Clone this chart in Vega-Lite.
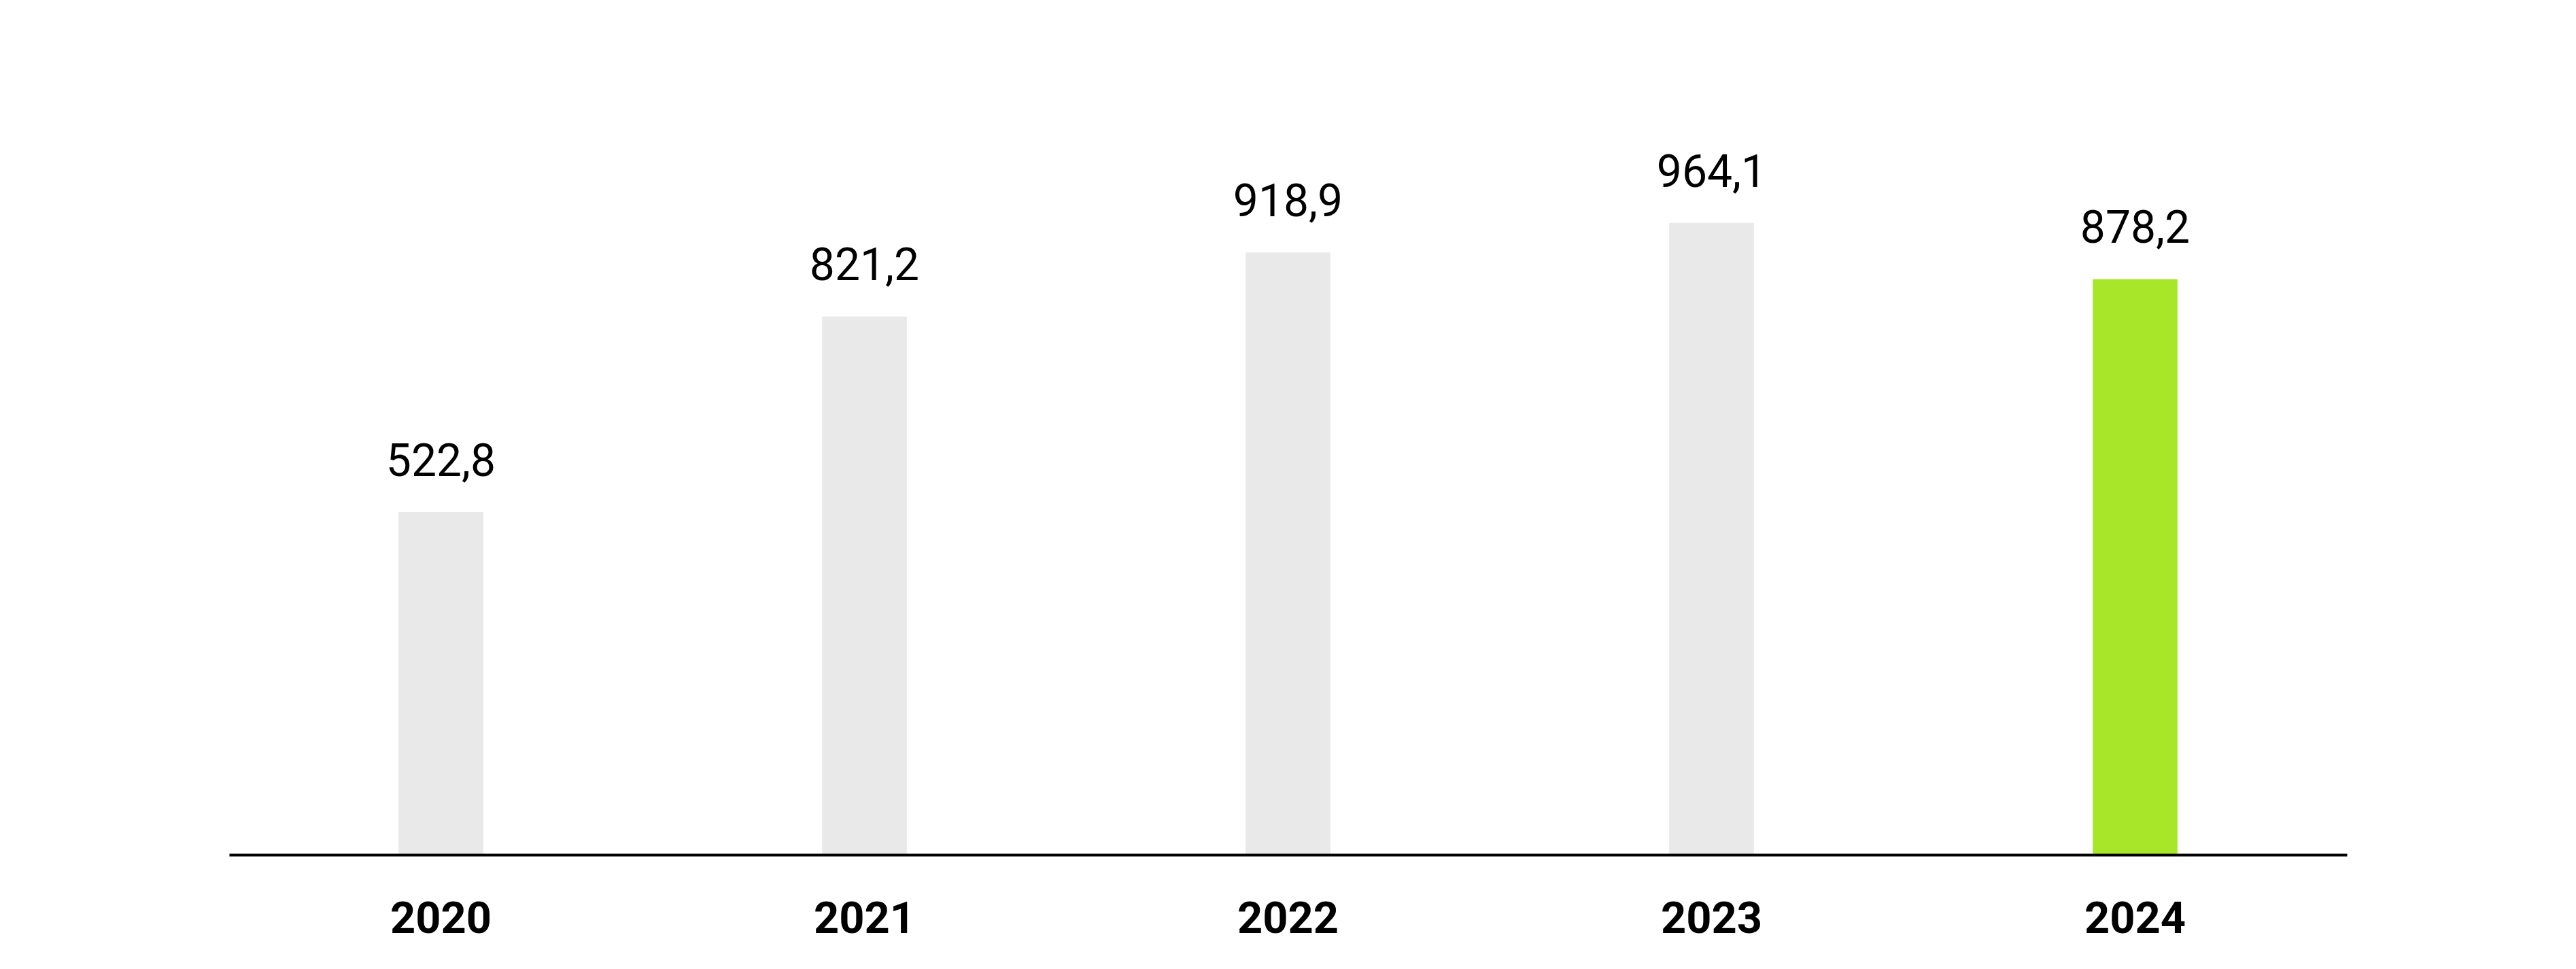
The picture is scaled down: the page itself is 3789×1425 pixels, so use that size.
{
  "$schema": "https://vega.github.io/schema/vega-lite/v6.json",
  "width": 3115,
  "height": 1257,
  "autosize": "none",
  "padding": {"left": 337, "top": 0, "right": 337, "bottom": 168},
  "background": "white",
  "data": {
    "values": [
      {"year": "2020", "value": 522.8},
      {"year": "2021", "value": 821.2},
      {"year": "2022", "value": 918.9},
      {"year": "2023", "value": 964.1},
      {"year": "2024", "value": 878.2}
    ]
  },
  "encoding": {
    "x": {
      "field": "year",
      "type": "nominal",
      "title": null,
      "scale": {"paddingInner": 0.8, "paddingOuter": 0.4},
      "axis": {
        "labelAngle": 0,
        "labelFont": "Roboto",
        "labelFontWeight": "bold",
        "labelFontSize": 65,
        "labelColor": "black",
        "labelPadding": 63,
        "ticks": false,
        "tickSize": 0,
        "domainColor": "black",
        "domainOpacity": 1,
        "domainWidth": 4,
        "grid": false,
        "zindex": 1
      }
    },
    "y": {
      "field": "value",
      "type": "quantitative",
      "scale": {"domain": [0, 1304]},
      "axis": null
    }
  },
  "layer": [
    {
      "mark": {"type": "bar"},
      "encoding": {
        "color": {
          "field": "year",
          "type": "nominal",
          "scale": {
            "domain": ["2020", "2021", "2022", "2023", "2024"],
            "range": ["#e9e9e9", "#e9e9e9", "#e9e9e9", "#e9e9e9", "#a8e62a"]
          },
          "legend": null
        }
      }
    },
    {
      "mark": {
        "type": "text",
        "baseline": "alphabetic",
        "dy": -53,
        "font": "Roboto",
        "fontSize": 66,
        "color": "black"
      },
      "encoding": {
        "text": {"field": "value", "type": "quantitative", "format": ".1f"}
      }
    }
  ],
  "config": {
    "view": {"stroke": null},
    "locale": {
      "number": {
        "decimal": ",",
        "thousands": " ",
        "grouping": [3],
        "currency": ["", ""]
      }
    }
  }
}
